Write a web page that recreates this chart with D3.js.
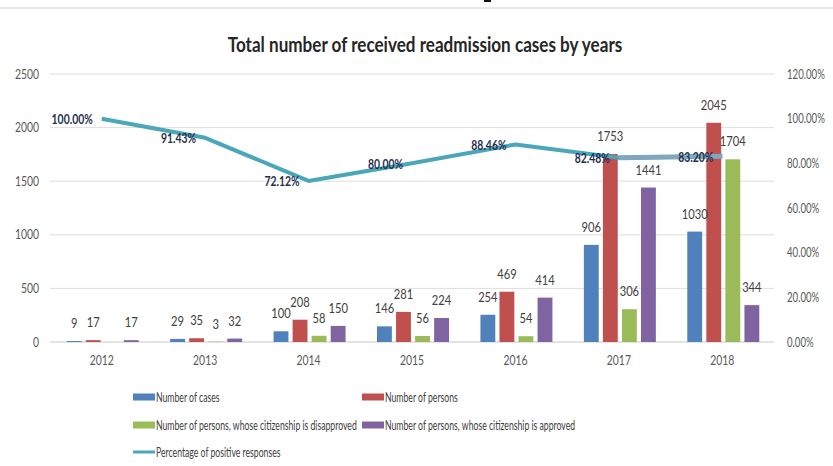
<!DOCTYPE html>
<html lang="en">
<head>
    <meta charset="UTF-8">
    <title>Total number of received readmission cases by years</title>
    <script src="https://d3js.org/d3.v7.min.js"></script>
    <style>
        body {
            margin: 0;
            padding: 0;
            background-color: #ffffff;
        }
        svg text {
            font-family: Lato, "Open Sans", Arial, sans-serif;
        }
    </style>
</head>
<body>
    <div id="chart"></div>

    <script>
        // chart data
        const years = ["2012", "2013", "2014", "2015", "2016", "2017", "2018"];
        const cases = [9, 29, 100, 146, 254, 906, 1030];
        const persons = [17, 35, 208, 281, 469, 1753, 2045];
        const disapproved = [null, 3, 58, 56, 54, 306, 1704];
        const approved = [17, 32, 150, 224, 414, 1441, 344];
        const positivePct = [100.00, 91.43, 72.12, 80.00, 88.46, 82.48, 83.20];
        const leftTicks = [0, 500, 1000, 1500, 2000, 2500];
        const rightTicks = [0, 20, 40, 60, 80, 100, 120];

        const seriesNames = [
            "Number of cases",
            "Number of persons",
            "Number of persons, whose citizenship is disapproved",
            "Number of persons, whose citizenship is approved"
        ];
        const lineName = "Percentage of positive responses";
        const colors = ["#4f81bd", "#c0504d", "#9bbb59", "#8064a2"];
        const lineColor = "#4aa6b8";

        const width = 833, height = 466;
        const plot = { left: 50, right: 774, top: 74, bottom: 342 };

        // the source text is a narrow (Calibri-like) face, squeeze ours
        // horizontally around its anchor point to match
        function squeeze(sel, factor) {
            sel.each(function () {
                const t = d3.select(this);
                const tx = +t.attr("x") || 0;
                const ty = +t.attr("y") || 0;
                t.attr("x", 0).attr("y", 0)
                    .attr("transform", `translate(${tx},${ty}) scale(${factor},1)`);
            });
        }

        const svg = d3.select("#chart")
            .append("svg")
            .attr("width", width)
            .attr("height", height);

        svg.append("rect")
            .attr("width", width)
            .attr("height", height)
            .attr("fill", "#ffffff");

        // faint separator at the very top of the picture
        svg.append("line")
            .attr("x1", 0).attr("x2", width)
            .attr("y1", 8).attr("y2", 8)
            .attr("stroke", "#e0e0e0")
            .attr("stroke-width", 1.5);
        svg.append("rect")
            .attr("x", 484).attr("y", 0)
            .attr("width", 7).attr("height", 2)
            .attr("fill", "#111");

        // title
        svg.append("text")
            .attr("x", 425)
            .attr("y", 52)
            .attr("text-anchor", "middle")
            .attr("font-size", "20px")
            .attr("font-weight", "bold")
            .attr("fill", "#262626")
            .text("Total number of received readmission cases by years")
            .call(squeeze, 0.855);

        const x = d3.scaleBand()
            .domain(years)
            .range([plot.left, plot.right]);

        const y = d3.scaleLinear()
            .domain([0, 2500])
            .range([plot.bottom, plot.top]);

        const yRight = d3.scaleLinear()
            .domain([0, 120])
            .range([plot.bottom, plot.top]);

        // gridlines
        svg.append("g")
            .selectAll("line")
            .data(leftTicks)
            .enter().append("line")
            .attr("x1", plot.left)
            .attr("x2", plot.right)
            .attr("y1", d => y(d))
            .attr("y2", d => y(d))
            .attr("stroke", d => d === 0 ? "#c8c8c8" : "#dedede")
            .attr("stroke-width", 1);

        // left axis labels
        svg.append("g")
            .selectAll("text")
            .data(leftTicks)
            .enter().append("text")
            .attr("x", 39)
            .attr("y", d => y(d))
            .attr("dy", "0.35em")
            .attr("text-anchor", "end")
            .attr("font-size", "13px")
            .attr("fill", "#595959")
            .text(d => d)
            .call(squeeze, 0.8);

        // right axis labels
        svg.append("g")
            .selectAll("text")
            .data(rightTicks)
            .enter().append("text")
            .attr("x", 787)
            .attr("y", d => yRight(d))
            .attr("dy", "0.35em")
            .attr("text-anchor", "start")
            .attr("font-size", "13px")
            .attr("fill", "#595959")
            .text(d => d.toFixed(2) + "%")
            .call(squeeze, 0.74);

        // x axis labels
        svg.append("g")
            .selectAll("text")
            .data(years)
            .enter().append("text")
            .attr("x", d => x(d) + x.bandwidth() / 2)
            .attr("y", 365)
            .attr("text-anchor", "middle")
            .attr("font-size", "13px")
            .attr("fill", "#595959")
            .text(d => d)
            .call(squeeze, 0.8);

        // bars
        const allSeries = [cases, persons, disapproved, approved];
        const inner = d3.scaleBand()
            .domain(d3.range(allSeries.length))
            .range([0, 72])
            .paddingInner(0.22);
        const groupOffset = (x.bandwidth() - 72) / 2 + 1;

        const barData = [];
        allSeries.forEach((vals, s) => {
            vals.forEach((v, i) => {
                if (v !== null) barData.push({ s: s, year: years[i], v: v });
            });
        });

        svg.append("g")
            .selectAll("rect")
            .data(barData)
            .enter().append("rect")
            .attr("x", d => x(d.year) + groupOffset + inner(d.s))
            .attr("y", d => y(d.v))
            .attr("width", inner.bandwidth())
            .attr("height", d => Math.max(plot.bottom - y(d.v), 0))
            .attr("fill", d => colors[d.s]);

        // bar value labels
        svg.append("g")
            .selectAll("text")
            .data(barData)
            .enter().append("text")
            .attr("x", d => x(d.year) + groupOffset + inner(d.s) + inner.bandwidth() / 2)
            .attr("y", d => y(d.v) - 13)
            .attr("text-anchor", "middle")
            .attr("font-size", "14px")
            .attr("fill", "#404040")
            .text(d => d.v)
            .call(squeeze, 0.8);

        // percentage line
        const line = d3.line()
            .x((d, i) => x(years[i]) + x.bandwidth() / 2)
            .y(d => yRight(d));

        svg.append("path")
            .datum(positivePct)
            .attr("fill", "none")
            .attr("stroke", lineColor)
            .attr("stroke-width", 4)
            .attr("stroke-linejoin", "round")
            .attr("d", line);

        // last segment looks highlighted in the picture
        const lastTwo = positivePct.slice(-2);
        svg.append("path")
            .datum(lastTwo)
            .attr("fill", "none")
            .attr("stroke", "#7fa7bd")
            .attr("stroke-width", 5)
            .attr("d", d3.line()
                .x((d, i) => x(years[years.length - 2 + i]) + x.bandwidth() / 2)
                .y(d => yRight(d)));

        svg.append("g")
            .selectAll("text")
            .data(positivePct)
            .enter().append("text")
            .attr("x", (d, i) => x(years[i]) + x.bandwidth() / 2 - 9)
            .attr("y", d => yRight(d) + 1)
            .attr("dy", "0.35em")
            .attr("text-anchor", "end")
            .attr("font-size", "13px")
            .attr("font-weight", "bold")
            .attr("fill", "#1f2f4f")
            .text(d => d.toFixed(2) + "%")
            .call(squeeze, 0.8);

        // legend
        const legendItems = [
            { name: seriesNames[0], color: colors[0], type: "bar", x: 133, y: 397 },
            { name: seriesNames[1], color: colors[1], type: "bar", x: 362, y: 397 },
            { name: seriesNames[2], color: colors[2], type: "bar", x: 133, y: 425 },
            { name: seriesNames[3], color: colors[3], type: "bar", x: 362, y: 425 },
            { name: lineName, color: lineColor, type: "line", x: 133, y: 452 }
        ];

        const legend = svg.append("g")
            .selectAll("g")
            .data(legendItems)
            .enter().append("g")
            .attr("transform", d => `translate(${d.x},${d.y})`);

        legend.append("rect")
            .attr("x", 0)
            .attr("y", d => d.type === "bar" ? -3.5 : -1.5)
            .attr("width", 22)
            .attr("height", d => d.type === "bar" ? 7 : 3)
            .attr("fill", d => d.color);

        legend.append("text")
            .attr("x", 23)
            .attr("y", 0)
            .attr("dy", "0.35em")
            .attr("font-size", "14px")
            .attr("fill", "#404040")
            .text(d => d.name)
            .call(squeeze, 0.62);
    </script>
</body>
</html>
